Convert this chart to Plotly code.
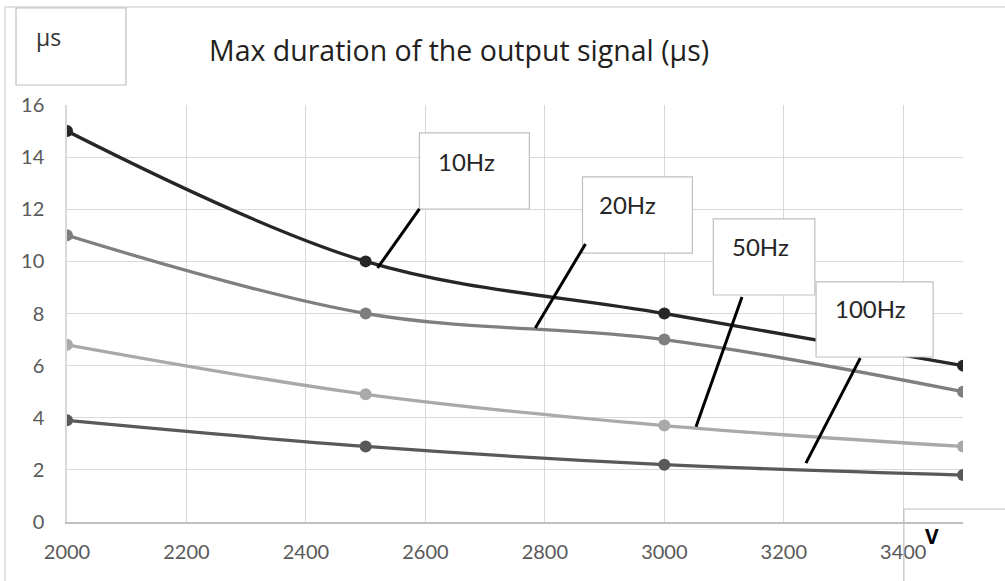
import plotly.graph_objects as go

# ---------------- data ----------------
voltage = [2000, 2500, 3000, 3500]
series_names = ["10Hz", "20Hz", "50Hz", "100Hz"]
dur_10hz = [15, 10, 8, 6]
dur_20hz = [11, 8, 7, 5]
dur_50hz = [6.8, 4.9, 3.7, 2.9]
dur_100hz = [3.9, 2.9, 2.2, 1.8]
x_ticks = [2000, 2200, 2400, 2600, 2800, 3000, 3200, 3400]
y_ticks = [0, 2, 4, 6, 8, 10, 12, 14, 16]

title_text = "Max duration of the output signal (µs)"
y_unit = "µs"
x_unit = "V"

series = [dur_10hz, dur_20hz, dur_50hz, dur_100hz]
colors = ["#262626", "#7f7f7f", "#a9a9a9", "#595959"]

# label box layout (data coords): box x0,x1,y0,y1 ; text x,y ; leader x0,y0,x1,y1
label_layout = [
    dict(box=(2590, 2774, 12.01, 14.93), txt=(2669, 13.82), lead=(2590, 12.01, 2520, 9.75)),
    dict(box=(2863, 3047, 10.32, 13.24), txt=(2938, 12.17), lead=(2868, 10.67, 2784, 7.44)),
    dict(box=(3082, 3252, 8.71, 11.63), txt=(3161, 10.59), lead=(3130, 8.63, 3053, 3.65)),
    dict(box=(3254, 3450, 6.33, 9.21), txt=(3345, 8.18), lead=(3328, 6.29, 3237, 2.26)),
]

fig = go.Figure()
for name, vals, col in zip(series_names, series, colors):
    fig.add_trace(go.Scatter(
        x=voltage, y=vals, name=name, mode="lines+markers",
        line=dict(color=col, width=3.3, shape="spline", smoothing=1.0),
        marker=dict(color=col, size=12),
        showlegend=False, hoverinfo="x+y+name",
    ))

shapes = []
annotations = []

GRID = "#d9d9d9"
BOXC = "#bfbfbf"

for name, lay in zip(series_names, label_layout):
    x0, x1, y0, y1 = lay["box"]
    shapes.append(dict(type="rect", xref="x", yref="y", x0=x0, x1=x1, y0=y0, y1=y1,
                       fillcolor="white", line=dict(color=BOXC, width=1.2), layer="above"))
    lx0, ly0, lx1, ly1 = lay["lead"]
    shapes.append(dict(type="line", xref="x", yref="y", x0=lx0, y0=ly0, x1=lx1, y1=ly1,
                       line=dict(color="black", width=3), layer="above"))
    tx, ty = lay["txt"]
    annotations.append(dict(x=tx, y=ty, xref="x", yref="y", text=name, showarrow=False,
                            font=dict(family="Lato, Open Sans, sans-serif", size=24, color="#262626"),
                            xanchor="center", yanchor="middle"))

# outer chart frame (top and left edges visible)
shapes.append(dict(type="line", xref="paper", yref="paper", x0=-0.0692, x1=1.08, y0=1.235, y1=1.235,
                   line=dict(color=GRID, width=1.5), layer="above"))
shapes.append(dict(type="line", xref="paper", yref="paper", x0=-0.0692, x1=-0.0692, y0=1.235, y1=-0.2,
                   line=dict(color=GRID, width=1.5), layer="above"))
# unit boxes
shapes.append(dict(type="rect", xref="paper", yref="paper", x0=-0.0569, x1=0.0658, y0=1.048, y1=1.2326,
                   fillcolor="white", line=dict(color=BOXC, width=1.2), layer="above"))
shapes.append(dict(type="rect", xref="paper", yref="paper", x0=0.934, x1=1.08, y0=0.0312, y1=-0.2,
                   fillcolor="rgba(255,255,255,0)", line=dict(color=BOXC, width=1.2), layer="above"))

annotations.append(dict(x=-0.0201, y=1.163, xref="paper", yref="paper", text=y_unit, showarrow=False,
                        font=dict(family="Open Sans, sans-serif", size=23, color="#333333"),
                        xanchor="center", yanchor="middle"))
annotations.append(dict(x=0.9654, y=-0.0336, xref="paper", yref="paper", text="<b>" + x_unit + "</b>",
                        showarrow=False, font=dict(family="Open Sans, sans-serif", size=21, color="black"),
                        xanchor="center", yanchor="middle"))
annotations.append(dict(x=0.4375, y=1.132, xref="paper", yref="paper", text=title_text, showarrow=False,
                        font=dict(family="Open Sans, sans-serif", size=28.5, color="#231f20"),
                        xanchor="center", yanchor="middle"))

fig.update_layout(
    width=1005, height=581,
    margin=dict(l=67, r=42, t=105, b=59),
    paper_bgcolor="white", plot_bgcolor="white",
    shapes=shapes, annotations=annotations,
    xaxis=dict(range=[2000, 3500], tickvals=x_ticks, showgrid=True, gridcolor=GRID, gridwidth=1.2,
               showline=True, linecolor=BOXC, linewidth=1.5, zeroline=False,
               ticks="", ticklabelstandoff=11,
               tickfont=dict(family="Lato, Open Sans, sans-serif", size=20, color="#595959"),
               fixedrange=True),
    yaxis=dict(range=[0, 16], tickvals=y_ticks, showgrid=True, gridcolor=GRID, gridwidth=1.2,
               showline=True, linecolor=GRID, linewidth=1.5, zeroline=False,
               ticks="", ticklabelstandoff=17,
               tickfont=dict(family="Lato, Open Sans, sans-serif", size=20, color="#595959"),
               fixedrange=True),
)

fig.write_html("out.html", config={"displayModeBar": False},
               post_script="document.body.style.margin='0';document.body.style.overflow='hidden';")
